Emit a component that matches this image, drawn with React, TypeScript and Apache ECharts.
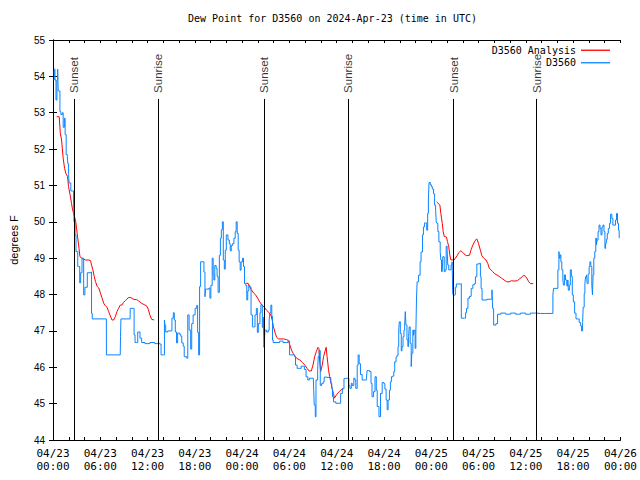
import React, { useEffect, useRef } from "react";
import * as echarts from "echarts";

// x values are hours since 2024-04-23 00:00 UTC
const xTickLabels = [
  "04/23\n00:00", "04/23\n06:00", "04/23\n12:00", "04/23\n18:00",
  "04/24\n00:00", "04/24\n06:00", "04/24\n12:00", "04/24\n18:00",
  "04/25\n00:00", "04/25\n06:00", "04/25\n12:00", "04/25\n18:00",
  "04/26\n00:00",
];

const sunEvents: [number, string][] = [
  [2.67, "Sunset"], [13.36, "Sunrise"],
  [26.76, "Sunset"], [37.42, "Sunrise"],
  [50.84, "Sunset"], [61.38, "Sunrise"],
];
const sunLineTop = 53.38;

const observed: [number, number][] = [
  [0.06, 53.9], [0.16, 54.2], [0.25, 53.9], [0.38, 53.35], [0.5, 53.9], [0.59, 54.2], [0.66, 53.6], [0.79, 53.6],
  [0.88, 53.03], [1.0, 52.95], [1.19, 53.0], [1.29, 52.6], [1.44, 52.85], [1.54, 52.4], [1.67, 51.85], [1.82, 51.8],
  [1.88, 51.6], [1.98, 51.3], [2.04, 51.07], [2.26, 50.85], [2.47, 50.85], [2.6, 50.6], [2.67, 50.0], [2.8, 49.64],
  [2.92, 49.18], [3.14, 48.77], [3.26, 48.77], [3.39, 48.32], [3.51, 48.6], [3.68, 49.0], [3.8, 49.0], [3.89, 47.99],
  [4.05, 48.2], [4.18, 48.2], [4.35, 48.6], [4.8, 48.62], [4.89, 47.48], [4.98, 47.33], [6.77, 47.33], [6.78, 46.34],
  [8.53, 46.34], [8.57, 46.85], [8.62, 47.33], [9.78, 47.33], [9.8, 47.62], [10.2, 47.62], [10.29, 46.89], [10.41, 46.68],
  [10.62, 46.68], [10.75, 46.97], [10.91, 46.97], [11.04, 46.8], [11.25, 46.68], [11.67, 46.65], [12.29, 46.68], [12.92, 46.65],
  [13.33, 46.66], [13.51, 46.64], [13.71, 46.34], [14.01, 46.34], [14.14, 47.3], [14.21, 47.15], [14.3, 46.97], [14.55, 47.0],
  [14.97, 47.0], [15.09, 47.35], [15.27, 47.5], [15.39, 47.3], [15.52, 46.97], [15.68, 46.67], [15.81, 46.94], [16.09, 46.9],
  [16.22, 46.85], [16.34, 46.67], [16.52, 46.58], [16.65, 46.29], [16.97, 46.25], [17.1, 47.44], [17.27, 47.02], [17.47, 46.5],
  [17.6, 47.2], [17.78, 47.44], [18.03, 47.62], [18.23, 47.7], [18.35, 46.96], [18.48, 46.34], [18.6, 48.22], [18.73, 48.9],
  [19.03, 48.9], [19.15, 48.62], [19.28, 47.94], [19.36, 48.15], [19.78, 48.18], [19.91, 47.9], [20.03, 48.25], [20.2, 49.0],
  [20.32, 48.56], [20.41, 48.4], [20.53, 48.8], [20.7, 48.72], [20.82, 48.5], [20.95, 48.06], [21.11, 49.08], [21.24, 49.55],
  [21.36, 49.78], [21.49, 50.0], [21.61, 48.95], [21.74, 48.7], [21.86, 49.22], [21.99, 49.64], [22.2, 49.5], [22.37, 49.4],
  [22.49, 49.2], [22.62, 49.35], [22.79, 49.4], [22.96, 49.55], [23.12, 49.73], [23.24, 50.0], [23.37, 49.68], [23.5, 49.22],
  [23.62, 48.9], [23.75, 48.67], [23.87, 48.9], [24.05, 49.0], [24.17, 48.77], [24.3, 48.3], [24.46, 48.25], [24.59, 47.85],
  [24.71, 48.1], [24.84, 48.25], [25.0, 48.2], [25.13, 47.44], [25.3, 47.11], [25.46, 47.11], [25.63, 47.44], [25.8, 47.62],
  [25.93, 46.96], [26.05, 47.2], [26.26, 47.5], [26.38, 47.72], [26.56, 47.1], [26.68, 47.38], [26.76, 46.55], [26.81, 46.61],
  [26.88, 47.02], [27.1, 46.97], [27.31, 47.02], [27.43, 47.3], [27.51, 47.5], [27.64, 47.71], [27.76, 47.4], [27.85, 46.75],
  [27.94, 46.68], [28.56, 46.68], [28.76, 46.72], [28.98, 46.72], [29.19, 46.68], [29.6, 46.68], [29.82, 46.72], [30.02, 46.34],
  [30.44, 46.34], [30.65, 46.3], [30.77, 46.06], [30.98, 45.97], [31.27, 45.97], [31.49, 46.03], [31.7, 46.03], [31.9, 45.94],
  [32.11, 45.74], [32.33, 45.65], [32.53, 45.7], [33.03, 45.7], [33.08, 45.37], [33.15, 44.96], [33.28, 44.64], [33.37, 45.65],
  [33.58, 45.93], [33.66, 46.3], [33.78, 46.46], [33.91, 45.5], [34.08, 45.55], [34.28, 45.6], [34.41, 45.73], [34.53, 45.72],
  [35.04, 45.72], [35.25, 45.56], [35.37, 45.42], [35.46, 45.19], [35.59, 45.05], [35.88, 45.01], [36.29, 45.01], [36.5, 45.28],
  [36.72, 45.41], [36.92, 45.69], [37.13, 45.7], [37.42, 45.7], [37.54, 45.5], [37.67, 45.42], [37.85, 45.56], [37.97, 45.5],
  [38.17, 45.7], [38.3, 45.65], [38.42, 45.42], [38.6, 46.06], [38.72, 46.34], [38.85, 46.1], [39.01, 45.8], [39.23, 45.65],
  [39.64, 45.65], [39.77, 45.7], [39.85, 45.91], [40.05, 45.91], [40.18, 45.88], [40.35, 45.56], [40.48, 45.19], [40.68, 45.33],
  [40.86, 45.74], [41.02, 45.37], [41.14, 44.92], [41.36, 44.64], [41.56, 45.28], [41.77, 45.58], [41.99, 45.55], [42.11, 45.4],
  [42.27, 45.1], [42.4, 44.83], [42.52, 45.1], [42.69, 45.37], [42.81, 45.6], [42.94, 45.74], [43.11, 45.76], [43.24, 45.88],
  [43.36, 46.15], [43.53, 46.28], [43.65, 46.33], [43.78, 46.57], [43.87, 47.02], [43.94, 47.25], [44.07, 46.93], [44.19, 46.45],
  [44.28, 46.57], [44.41, 46.84], [44.53, 47.02], [44.62, 47.16], [44.7, 47.53], [44.78, 47.16], [44.91, 46.75], [45.03, 46.57],
  [45.12, 46.84], [45.2, 47.11], [45.32, 46.66], [45.45, 46.02], [45.53, 46.39], [45.66, 47.02], [45.75, 46.88], [45.82, 47.02],
  [45.95, 46.52], [46.04, 46.93], [46.12, 47.85], [46.2, 48.35], [46.37, 48.53], [46.58, 48.9], [46.7, 49.17], [46.88, 49.64],
  [47.0, 49.86], [47.13, 49.97], [47.29, 49.97], [47.42, 49.77], [47.54, 50.23], [47.63, 50.6], [47.71, 51.08], [47.88, 51.02],
  [48.01, 50.97], [48.13, 50.9], [48.29, 50.77], [48.42, 50.46], [48.55, 50.32], [48.63, 50.0], [48.71, 49.96], [48.83, 49.73],
  [48.96, 49.45], [49.13, 49.18], [49.21, 48.95], [49.3, 48.63], [49.39, 48.63], [49.46, 49.04], [49.64, 48.63], [49.76, 48.68],
  [49.89, 49.33], [50.01, 49.22], [50.09, 48.81], [50.21, 48.68], [50.39, 48.68], [50.51, 48.81], [50.64, 48.9], [50.72, 48.03],
  [50.8, 47.98], [50.97, 47.99], [51.05, 48.2], [51.18, 48.29], [51.68, 48.3], [51.81, 47.35], [52.22, 47.35], [52.35, 47.5],
  [52.47, 47.62], [52.65, 47.9], [52.85, 47.95], [53.06, 48.17], [53.27, 48.27], [53.48, 48.3], [53.6, 48.49], [53.78, 48.84],
  [54.1, 48.86], [54.23, 48.49], [54.32, 48.17], [54.44, 47.85], [55.07, 47.87], [55.57, 47.88], [55.7, 48.13], [55.78, 47.62],
  [55.91, 47.16], [56.2, 47.2], [56.41, 47.46], [56.83, 47.49], [57.45, 47.46], [58.08, 47.49], [58.71, 47.46], [59.33, 47.49],
  [59.96, 47.46], [60.59, 47.49], [61.22, 47.48], [61.84, 47.48], [62.47, 47.48], [63.31, 47.48], [63.43, 47.99], [63.51, 48.17],
  [63.94, 48.17], [64.06, 48.68], [64.19, 49.18], [64.26, 49.0], [64.35, 49.09], [64.44, 48.9], [64.56, 48.68], [64.69, 48.4],
  [64.77, 48.26], [64.89, 48.54], [65.02, 48.4], [65.19, 48.24], [65.32, 48.4], [65.39, 48.12], [65.52, 48.26], [65.64, 48.68],
  [65.77, 48.5], [65.89, 47.99], [66.02, 47.8], [66.19, 47.49], [66.36, 47.33], [66.65, 47.33], [66.77, 47.23], [66.95, 47.14],
  [67.07, 47.0], [67.2, 47.23], [67.27, 47.65], [67.4, 48.03], [67.49, 48.3], [67.57, 48.49], [67.7, 48.54], [67.78, 48.3],
  [67.9, 48.56], [68.03, 48.77], [68.12, 48.9], [68.24, 48.77], [68.37, 48.26], [68.45, 47.99], [68.53, 48.54], [68.62, 49.0],
  [68.74, 49.18], [68.87, 49.55], [68.96, 49.37], [69.03, 49.5], [69.16, 49.73], [69.28, 49.91], [69.41, 49.82], [69.53, 49.64],
  [69.66, 49.86], [69.78, 49.91], [69.91, 49.73], [70.03, 49.27], [70.12, 49.41], [70.21, 49.52], [70.33, 49.68], [70.46, 49.82],
  [70.62, 49.96], [70.75, 50.21], [70.91, 50.09], [71.04, 49.91], [71.17, 49.91], [71.38, 50.05], [71.5, 50.23], [71.63, 49.96],
  [71.75, 49.77], [71.84, 49.55],
];

const analysisNight1: [number, number][] = [
  [0.46, 52.89], [0.79, 52.89], [0.92, 52.45], [1.09, 52.25], [1.29, 51.75], [1.47, 51.47], [1.63, 51.33], [1.84, 51.25],
  [1.97, 50.97], [2.17, 50.74], [2.35, 50.51], [2.47, 50.35], [2.67, 50.19], [2.89, 50.0], [3.01, 49.78], [3.17, 49.5],
  [3.3, 49.27], [3.42, 49.04], [3.64, 49.0], [3.93, 48.97], [4.14, 48.95], [4.55, 48.95], [4.77, 48.93], [4.89, 48.81],
  [5.06, 48.68], [5.23, 48.5], [5.39, 48.36], [5.61, 48.22], [5.81, 48.18], [6.02, 48.04], [6.23, 47.9], [6.44, 47.76],
  [6.65, 47.69], [6.86, 47.65], [7.06, 47.53], [7.28, 47.41], [7.49, 47.3], [7.69, 47.3], [7.9, 47.39], [8.12, 47.53],
  [8.32, 47.62], [8.53, 47.71], [8.74, 47.71], [8.94, 47.78], [9.16, 47.83], [9.37, 47.87], [9.57, 47.92], [9.78, 47.92],
  [10.0, 47.9], [10.2, 47.87], [10.62, 47.86], [10.83, 47.83], [11.25, 47.76], [11.67, 47.71], [11.88, 47.69], [12.08, 47.6],
  [12.29, 47.44], [12.51, 47.32], [12.83, 47.3],
];

const analysisNight2: [number, number][] = [
  [24.5, 48.31], [24.75, 48.31], [24.93, 48.22], [25.18, 48.13], [25.46, 48.04], [25.68, 48.0], [25.97, 47.9], [26.22, 47.8],
  [26.51, 47.71], [26.81, 47.65], [27.13, 47.56], [27.47, 47.49], [27.64, 47.44], [27.81, 47.3], [27.97, 47.12], [28.19, 46.94],
  [28.39, 46.82], [28.6, 46.78], [29.23, 46.78], [29.64, 46.76], [29.85, 46.74], [30.07, 46.6], [30.27, 46.47], [30.48, 46.38],
  [30.69, 46.31], [30.9, 46.25], [31.32, 46.2], [31.65, 46.13], [31.95, 46.06], [32.24, 45.97], [32.49, 45.9], [32.78, 45.9],
  [32.99, 46.06], [33.2, 46.29], [33.41, 46.43], [33.62, 46.55], [33.74, 46.52], [33.83, 46.2], [33.96, 45.88], [34.16, 46.06],
  [34.33, 46.29], [34.53, 46.45], [34.66, 46.55], [34.78, 46.29], [34.96, 45.93], [35.09, 45.75], [35.29, 45.56], [35.41, 45.42],
  [35.59, 45.28], [35.71, 45.15], [35.91, 45.22], [36.13, 45.29], [36.34, 45.33], [36.54, 45.38], [36.75, 45.42],
];

const analysisNight3: [number, number][] = [
  [48.67, 50.55], [49.09, 50.46], [49.21, 50.23], [49.39, 49.96], [49.51, 49.73], [49.64, 49.6], [49.93, 49.58], [50.05, 49.46],
  [50.21, 49.32], [50.34, 49.1], [50.46, 48.96], [50.64, 48.95], [50.89, 48.95], [51.05, 49.0], [51.31, 49.08], [51.47, 49.15],
  [51.72, 49.2], [51.9, 49.18], [52.15, 49.12], [52.43, 49.07], [52.85, 49.08], [53.06, 49.24], [53.27, 49.36], [53.48, 49.45],
  [53.69, 49.52], [53.81, 49.52], [53.98, 49.41], [54.23, 49.22], [54.4, 49.08], [54.65, 49.0], [54.94, 48.95], [55.16, 48.86],
  [55.36, 48.72], [55.57, 48.68], [55.78, 48.63], [55.99, 48.58], [56.32, 48.54], [56.61, 48.5], [56.91, 48.45], [57.24, 48.4],
  [57.58, 48.35], [57.87, 48.35], [58.17, 48.38], [58.5, 48.37], [58.92, 48.38], [59.25, 48.44], [59.55, 48.49], [59.75, 48.53],
  [59.96, 48.5], [60.17, 48.43], [60.37, 48.35], [60.59, 48.3], [60.93, 48.3],
];

const RED = "#ff0000";
const BLUE = "#0a84ff";
const MONO = "DejaVu Sans Mono";
const SANS = "Liberation Sans";

export default function App() {
  const ref = useRef<HTMLDivElement>(null);
  useEffect(() => {
    if (!ref.current) return;
    const chart = echarts.init(ref.current, undefined, { renderer: "svg" });
    const redSeries = [analysisNight1, analysisNight2, analysisNight3].map((d) => ({
      name: "D3560 Analysis",
      type: "line",
      data: d,
      symbol: "none",
      showSymbol: false,
      lineStyle: { color: RED, width: 1 },
      itemStyle: { color: RED },
      z: 2,
    }));
    chart.setOption({
      animation: false,
      backgroundColor: "#ffffff",
      title: {
        text: "Dew Point for D3560 on 2024-Apr-23 (time in UTC)",
        left: 188,
        top: 13,
        padding: 0,
        textStyle: { fontFamily: MONO, fontSize: 10, fontWeight: "normal", color: "#000" },
      },
      legend: {
        orient: "vertical",
        right: 30,
        top: 44,
        padding: 0,
        align: "right",
        icon: "rect",
        itemWidth: 29,
        itemHeight: 1.3,
        itemGap: 0,
        data: ["D3560 Analysis", "D3560"],
        textStyle: { fontFamily: MONO, fontSize: 10, lineHeight: 12.5, color: "#000" },
      },
      grid: { left: 47, right: 19, top: 40, bottom: 40, containLabel: false },
      xAxis: [
        {
          type: "value",
          min: 0,
          max: 72,
          interval: 2,
          axisLine: { show: true, lineStyle: { color: "#000", width: 1 } },
          axisTick: { show: true, inside: true, length: 3, lineStyle: { color: "#000" } },
          splitLine: { show: false },
          axisLabel: {
            margin: 7,
            fontFamily: MONO,
            fontSize: 11,
            lineHeight: 13,
            color: "#000",
            formatter: (v: number) => (v % 6 === 0 ? xTickLabels[v / 6] : ""),
          },
        },
        {
          type: "value",
          position: "top",
          min: 0,
          max: 72,
          interval: 2,
          axisLine: { show: true, lineStyle: { color: "#000", width: 1 } },
          axisTick: { show: true, inside: true, length: 3, lineStyle: { color: "#000" } },
          splitLine: { show: false },
          axisLabel: { show: false },
        },
      ],
      yAxis: [
        {
          type: "value",
          min: 44,
          max: 55,
          interval: 1,
          name: "degrees F",
          nameLocation: "middle",
          nameGap: 34,
          nameRotate: 90,
          nameTextStyle: { fontFamily: SANS, fontSize: 11, color: "#000" },
          axisLine: { show: true, lineStyle: { color: "#000", width: 1 } },
          axisTick: { show: true, inside: true, length: 4, lineStyle: { color: "#000" } },
          splitLine: { show: false },
          axisLabel: { margin: 8, fontFamily: SANS, fontSize: 10, color: "#000" },
        },
        {
          type: "value",
          position: "right",
          min: 44,
          max: 55,
          interval: 1,
          axisLine: { show: true, lineStyle: { color: "#000", width: 1 } },
          axisTick: { show: true, inside: true, length: 4, lineStyle: { color: "#000" } },
          splitLine: { show: false },
          axisLabel: { show: false },
        },
      ],
      series: [
        ...redSeries,
        {
          name: "D3560",
          type: "line",
          data: observed,
          step: "end",
          symbol: "none",
          showSymbol: false,
          lineStyle: { color: BLUE, width: 1 },
          itemStyle: { color: BLUE },
          z: 3,
          markLine: {
            silent: true,
            symbol: ["none", "none"],
            label: { show: false },
            lineStyle: { color: "#000", width: 1, type: "solid" },
            data: sunEvents.map(([t]) => [{ coord: [t, 44] }, { coord: [t, sunLineTop] }]),
          },
        },
        {
          name: "sun",
          type: "scatter",
          data: sunEvents.map(([t, s]) => [t, sunLineTop, s]),
          symbolSize: 0,
          silent: true,
          label: {
            show: true,
            position: "top",
            distance: 6,
            rotate: 90,
            align: "left",
            verticalAlign: "middle",
            fontFamily: SANS,
            fontSize: 11.5,
            color: "#000",
            formatter: (p: any) => p.value[2],
          },
        },
      ],
    });
    return () => chart.dispose();
  }, []);
  return <div ref={ref} style={{ position: "fixed", left: 0, top: 0, width: 640, height: 480 }} />;
}
